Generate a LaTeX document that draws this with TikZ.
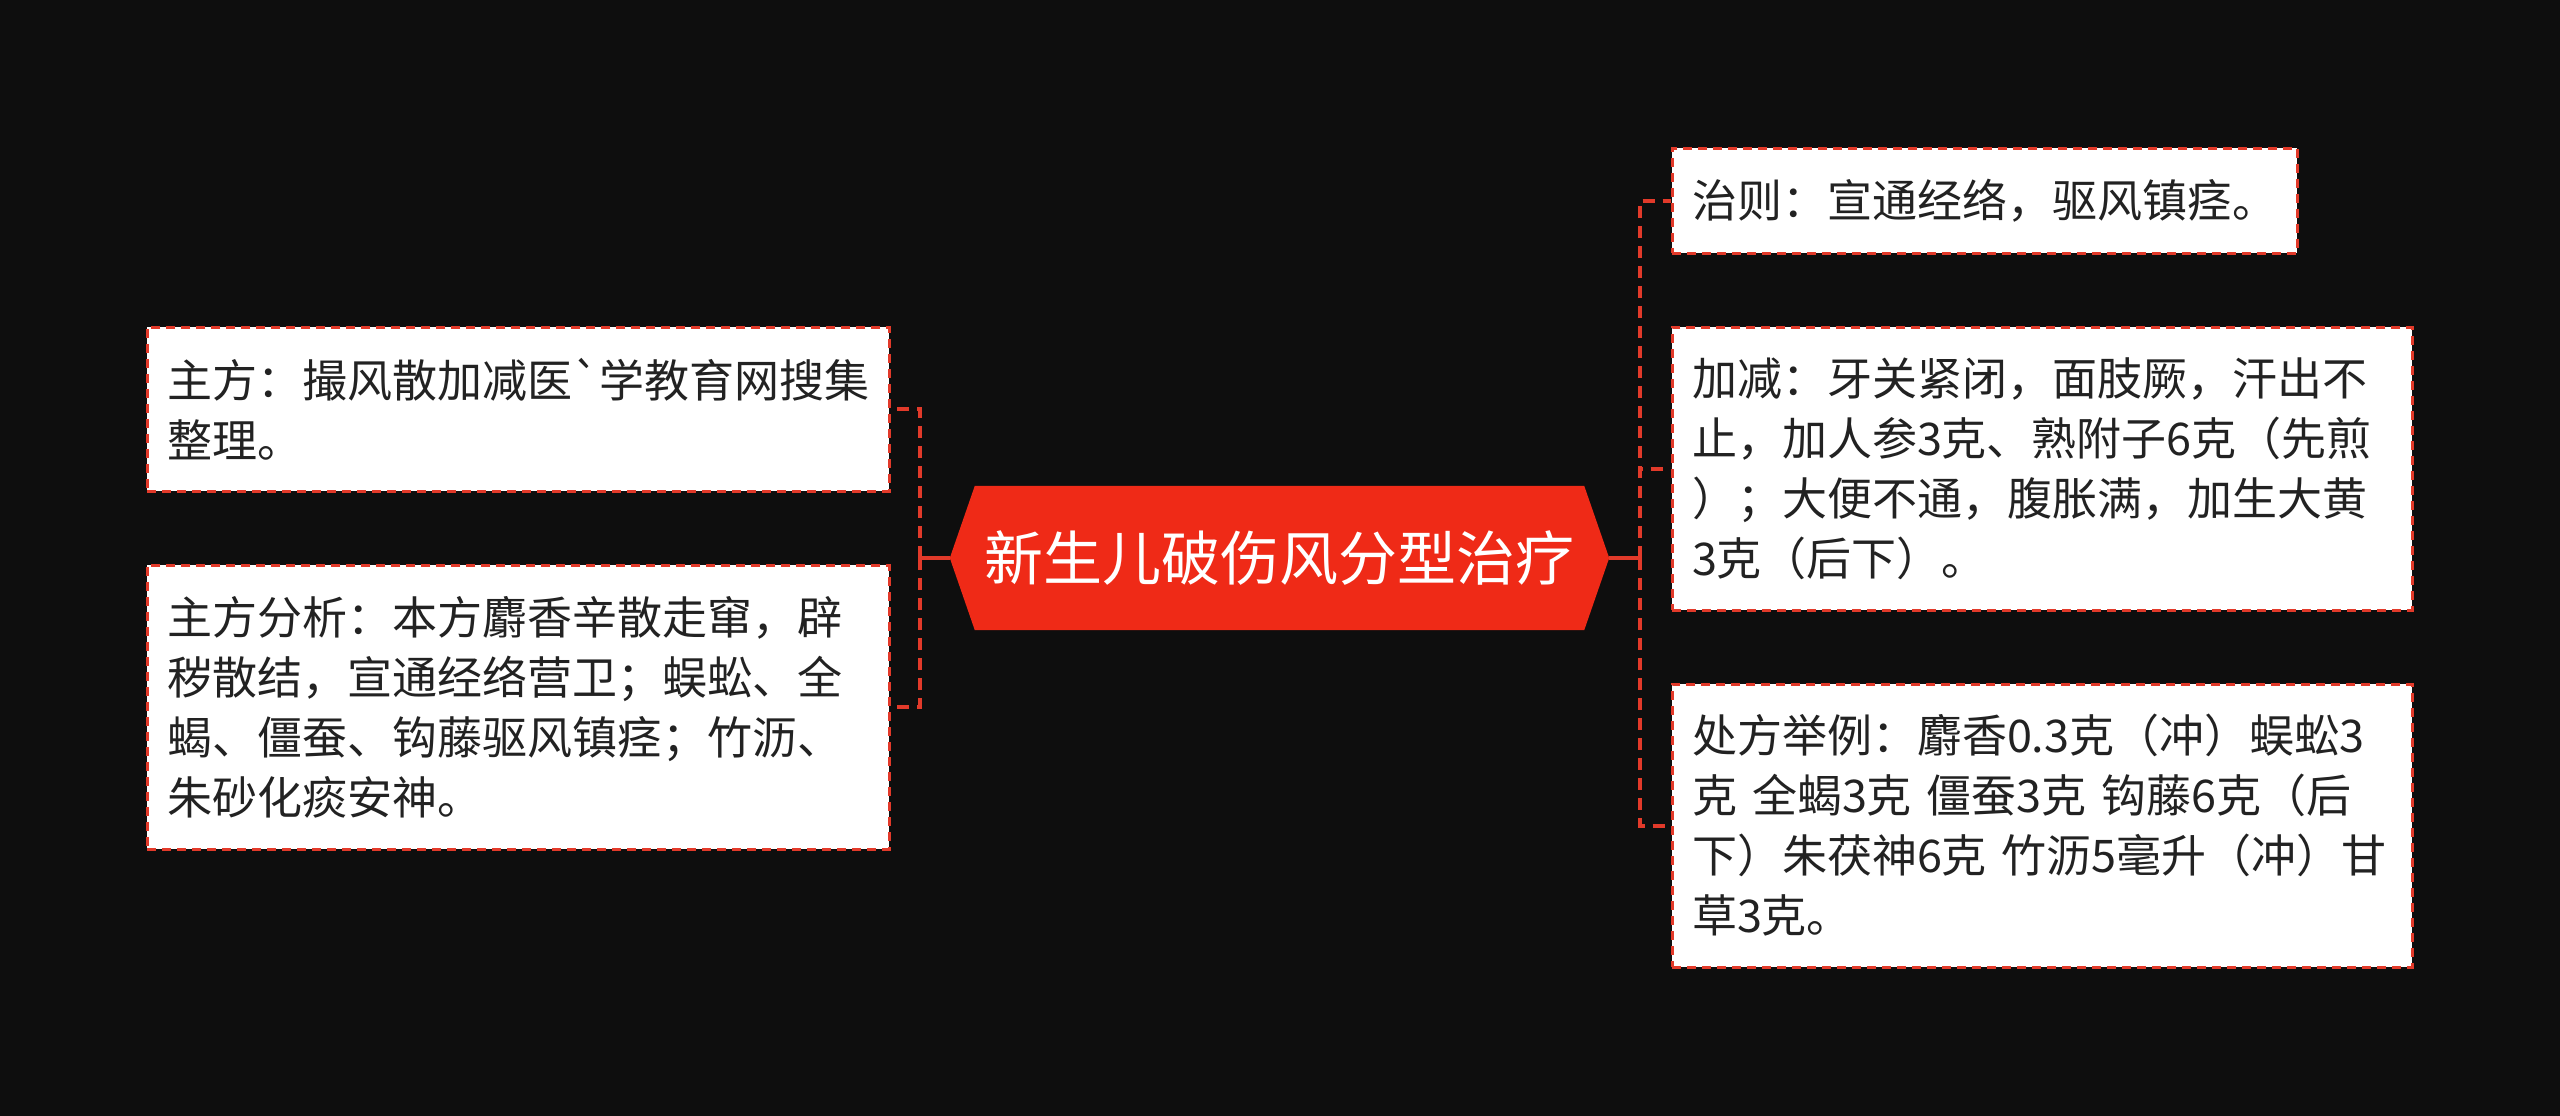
\documentclass[tikz,border=0pt]{standalone}
\usepackage{fontspec}
\newfontfamily\cjk{Noto Sans CJK SC}
\usetikzlibrary{backgrounds}
\definecolor{bgc}{HTML}{0E0E0E}
\definecolor{lred}{HTML}{E23A2A}
\definecolor{hubred}{HTML}{EF2A17}
\definecolor{txtc}{HTML}{222222}
\tikzset{
  leaf/.style={draw=lred, line width=3pt, dash pattern=on 9pt off 6pt, fill=white,
    text=txtc, font=\cjk\fontsize{45}{60}\selectfont, align=left,
    inner xsep=20pt, inner ysep=0pt, anchor=center},
  hubtext/.style={text=white, font=\cjk\fontsize{59}{70}\selectfont,
    minimum width=659pt, minimum height=144pt, inner sep=0pt},
  hubfill/.style={fill=hubred},
  conn/.style={draw=lred, line width=4pt, dash pattern=on 12pt off 8pt},
  stub/.style={draw=lred, line width=4pt},
}
\begin{document}
\begin{tikzpicture}[x=1pt,y=-1pt]
\useasboundingbox (0,0) rectangle (2560,1116);

% central node
\node[hubtext] (c) at (1279.5,558) {新生儿破伤风分型治疗};

% left boxes
\node[leaf, text width=702pt, minimum width=742pt, minimum height=164pt] (l1) at (518,409)
  {主方：撮风散加减医`学教育网搜集\\整理。};
\node[leaf, text width=702pt, minimum width=742pt, minimum height=284pt] (l2) at (518,707)
  {主方分析：本方麝香辛散走窜，辟\\秽散结，宣通经络营卫；蜈蚣、全\\蝎、僵蚕、钩藤驱风镇痉；竹沥、\\朱砂化痰安神。};

% right boxes
\node[leaf, text width=585pt, minimum width=625pt, minimum height=105pt] (r1) at (1984.5,200.5)
  {治则：宣通经络，驱风镇痉。};
\node[leaf, text width=700pt, minimum width=740pt, minimum height=283pt] (r2) at (2042,468.5)
  {加减：牙关紧闭，面肢厥，汗出不\\止，加人参3克、熟附子6克（先煎\\）；大便不通，腹胀满，加生大黄\\3克（后下）。};
\node[leaf, text width=700pt, minimum width=740pt, minimum height=283pt] (r3) at (2042,825.5)
  {处方举例：麝香0.3克（冲）蜈蚣3\\克~全蝎3克~僵蚕3克~钩藤6克（后\\下）朱茯神6克~竹沥5毫升（冲）甘\\草3克。};

% junctions
\coordinate (lj) at (920,558);
\coordinate (rj) at (1640,558);

% connectors
\draw[stub] (c.west) -- (lj);
\draw[stub] ([yshift=-10pt]lj) -- ([yshift=10pt]lj);
\draw[conn] (lj) |- (l1.east);
\draw[conn] (lj) |- (l2.east);

\draw[stub] (c.east) -- (rj);
\draw[stub] ([yshift=-10pt]rj) -- ([yshift=10pt]rj);
\draw[conn] (rj) |- (r1.west);
\draw[conn] (rj) |- (r2.west);
\draw[conn] (rj) |- (r3.west);

\begin{scope}[on background layer]
  \fill[bgc] (0,0) rectangle (2560,1116);
  \fill[hubfill] (c.west) -- ([xshift=25pt]c.north west) -- ([xshift=-25pt]c.north east)
    -- (c.east) -- ([xshift=-25pt]c.south east) -- ([xshift=25pt]c.south west) -- cycle;
\end{scope}
\end{tikzpicture}
\end{document}
